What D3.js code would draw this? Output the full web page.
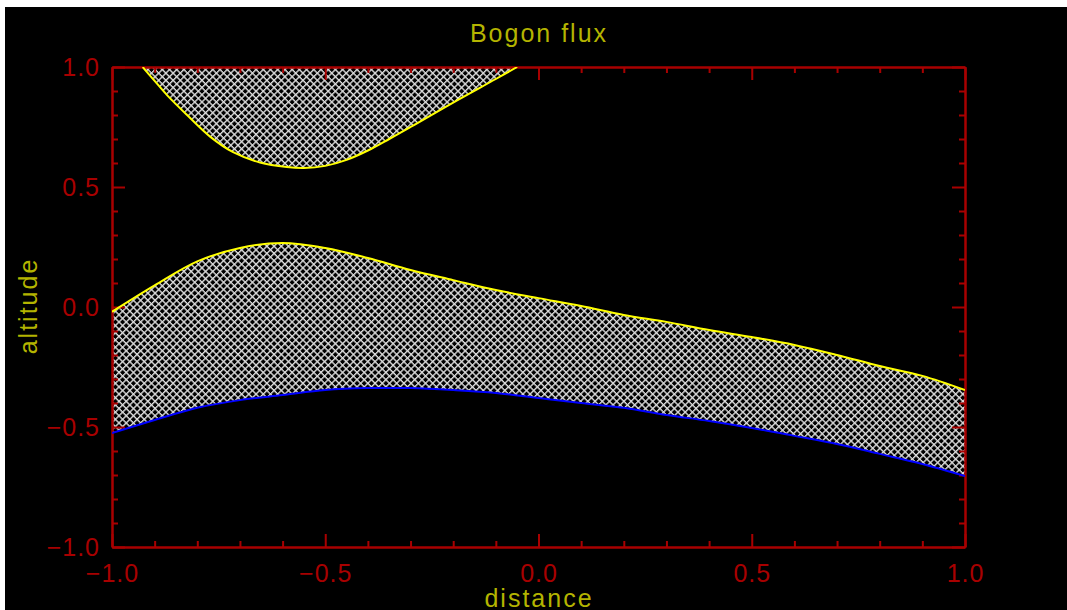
<!DOCTYPE html>
<html><head><meta charset="utf-8">
<script src="https://cdn.jsdelivr.net/npm/d3@7"></script>
<style>html,body{margin:0;padding:0;background:#fff;}svg{display:block;}</style>
</head><body>
<script>
// Data
const upperX   = [-0.928, -0.9, -0.871, -0.824, -0.77, -0.716, -0.653, -0.59, -0.55, -0.5, -0.45, -0.4, -0.35, -0.3, -0.2, -0.1, -0.05];
const upperLow = [1.0, 0.942, 0.883, 0.80, 0.71, 0.645, 0.602, 0.583, 0.579, 0.588, 0.613, 0.652, 0.70, 0.75, 0.852, 0.95, 1.0];
const upperTop = [1.0, 1.0, 1.0, 1.0, 1.0, 1.0, 1.0, 1.0, 1.0, 1.0, 1.0, 1.0, 1.0, 1.0, 1.0, 1.0, 1.0];

const lowerX   = [-1.0, -0.9, -0.8, -0.7, -0.6, -0.5, -0.4, -0.3, -0.2, -0.1, 0.0, 0.1, 0.2, 0.3, 0.4, 0.5, 0.6, 0.7, 0.8, 0.9, 1.0];
const lowerTop = [-0.02, 0.09, 0.19, 0.246, 0.267, 0.246, 0.204, 0.154, 0.112, 0.071, 0.037, 0.004, -0.033, -0.062, -0.096, -0.125, -0.158, -0.2, -0.246, -0.287, -0.346];
const lowerBot = [-0.525, -0.471, -0.42, -0.388, -0.367, -0.346, -0.338, -0.338, -0.346, -0.358, -0.379, -0.4, -0.42, -0.45, -0.475, -0.504, -0.537, -0.571, -0.612, -0.654, -0.704];

const majorTicks = [-1.0, -0.5, 0.0, 0.5, 1.0];
const minorTicks = [-0.9,-0.8,-0.7,-0.6,-0.4,-0.3,-0.2,-0.1,0.1,0.2,0.3,0.4,0.6,0.7,0.8,0.9];
const title = "Bogon flux", xTitle = "distance", yTitle = "altitude";

const W = 1067, H = 610;
const m = {left:112, right:965, top:67, bottom:547};
const axisColor = "#a80000", textYellow = "#b4b400";
const font = "'Liberation Sans', Arial, sans-serif";

const svg = d3.select("body").append("svg").attr("width", W).attr("height", H);
svg.append("rect").attr("width", W).attr("height", H).attr("fill", "#fff");
svg.append("rect").attr("x", 5).attr("y", 7).attr("width", W-5).attr("height", H-7).attr("fill", "#000");

const x = d3.scaleLinear().domain([-1, 1]).range([m.left, m.right]);
const y = d3.scaleLinear().domain([-1, 1]).range([m.bottom, m.top]);

const defs = svg.append("defs");
const P = 5.1;
const pat = defs.append("pattern").attr("id", "hatch").attr("patternUnits", "userSpaceOnUse")
  .attr("width", P).attr("height", P).attr("patternTransform", "rotate(45)");
pat.append("rect").attr("width", P).attr("height", P).attr("fill", "#000");
pat.append("line").attr("x1", 0.7).attr("y1", 0).attr("x2", 0.7).attr("y2", P).attr("stroke", "#dcdcdc").attr("stroke-width", 1.4);
pat.append("line").attr("x1", 0).attr("y1", 0.7).attr("x2", P).attr("y2", 0.7).attr("stroke", "#dcdcdc").attr("stroke-width", 1.4);
defs.append("clipPath").attr("id", "clip").append("rect")
  .attr("x", m.left).attr("y", m.top).attr("width", m.right - m.left).attr("height", m.bottom - m.top);

const g = svg.append("g").attr("clip-path", "url(#clip)");

const upperData = upperX.map((v, i) => ({x: v, lo: upperLow[i], hi: upperTop[i]}));
const lowerData = lowerX.map((v, i) => ({x: v, lo: lowerBot[i], hi: lowerTop[i]}));
const curve = d3.curveCatmullRom.alpha(0.5);
const area = d3.area().x(d => x(d.x)).y0(d => y(d.lo)).y1(d => y(d.hi)).curve(curve);
const lineLo = d3.line().x(d => x(d.x)).y(d => y(d.lo)).curve(curve);
const lineHi = d3.line().x(d => x(d.x)).y(d => y(d.hi)).curve(curve);

g.append("path").datum(upperData).attr("d", area).attr("fill", "url(#hatch)");
g.append("path").datum(lowerData).attr("d", area).attr("fill", "url(#hatch)");

// Axes
function styleAxis(sel) {
  sel.select(".domain").attr("stroke", axisColor).attr("stroke-width", 2);
  sel.selectAll(".tick line").attr("stroke", axisColor).attr("stroke-width", 2);
  sel.selectAll("text").attr("fill", axisColor).attr("font-family", font).attr("font-size", 25);
}
const fmt = d => (d < 0 ? "\u2212" : "") + Math.abs(d).toFixed(1);

// minor ticks
[["bottom", m.bottom], ["top", m.top]].forEach(([pos, ty]) => {
  const ax = (pos === "bottom" ? d3.axisBottom(x) : d3.axisTop(x)).tickValues(minorTicks).tickSize(-6).tickSizeOuter(0).tickFormat("");
  svg.append("g").attr("transform", `translate(0,${ty})`).call(ax).call(styleAxis);
});
[["left", m.left], ["right", m.right]].forEach(([pos, tx]) => {
  const ax = (pos === "left" ? d3.axisLeft(y) : d3.axisRight(y)).tickValues(minorTicks).tickSize(-6).tickSizeOuter(0).tickFormat("");
  svg.append("g").attr("transform", `translate(${tx},0)`).call(ax).call(styleAxis);
});
// major ticks
const xb = svg.append("g").attr("transform", `translate(0,${m.bottom})`)
  .call(d3.axisBottom(x).tickValues(majorTicks).tickSize(-13).tickSizeOuter(0).tickPadding(17).tickFormat(fmt)).call(styleAxis);
xb.selectAll("text").attr("dy", "0.71em").attr("letter-spacing", 1);
svg.append("g").attr("transform", `translate(0,${m.top})`)
  .call(d3.axisTop(x).tickValues(majorTicks).tickSize(-13).tickSizeOuter(0).tickFormat("")).call(styleAxis);
const yl = svg.append("g").attr("transform", `translate(${m.left},0)`)
  .call(d3.axisLeft(y).tickValues(majorTicks).tickSize(-13).tickSizeOuter(0).tickPadding(12).tickFormat(fmt)).call(styleAxis);
yl.selectAll("text").attr("letter-spacing", 1);
svg.append("g").attr("transform", `translate(${m.right},0)`)
  .call(d3.axisRight(y).tickValues(majorTicks).tickSize(-13).tickSizeOuter(0).tickFormat("")).call(styleAxis);

// curves
const gl = svg.append("g").attr("clip-path", "url(#clip)");
gl.append("path").datum(upperData).attr("d", lineLo).attr("fill", "none").attr("stroke", "#ffff00").attr("stroke-width", 2);
gl.append("path").datum(lowerData).attr("d", lineHi).attr("fill", "none").attr("stroke", "#ffff00").attr("stroke-width", 2);
gl.append("path").datum(lowerData).attr("d", lineLo).attr("fill", "none").attr("stroke", "#0000ff").attr("stroke-width", 2);

// titles
svg.append("text").attr("x", 539).attr("y", 42).attr("text-anchor", "middle").attr("fill", textYellow)
  .attr("font-family", font).attr("font-size", 25).attr("letter-spacing", 2).text(title);
svg.append("text").attr("x", 539).attr("y", 607).attr("text-anchor", "middle").attr("fill", textYellow)
  .attr("font-family", font).attr("font-size", 25).attr("letter-spacing", 2).text(xTitle);
svg.append("text").attr("transform", "translate(37,306) rotate(-90)").attr("text-anchor", "middle").attr("fill", textYellow)
  .attr("font-family", font).attr("font-size", 25).attr("letter-spacing", 2).text(yTitle);
</script>
</body></html>
